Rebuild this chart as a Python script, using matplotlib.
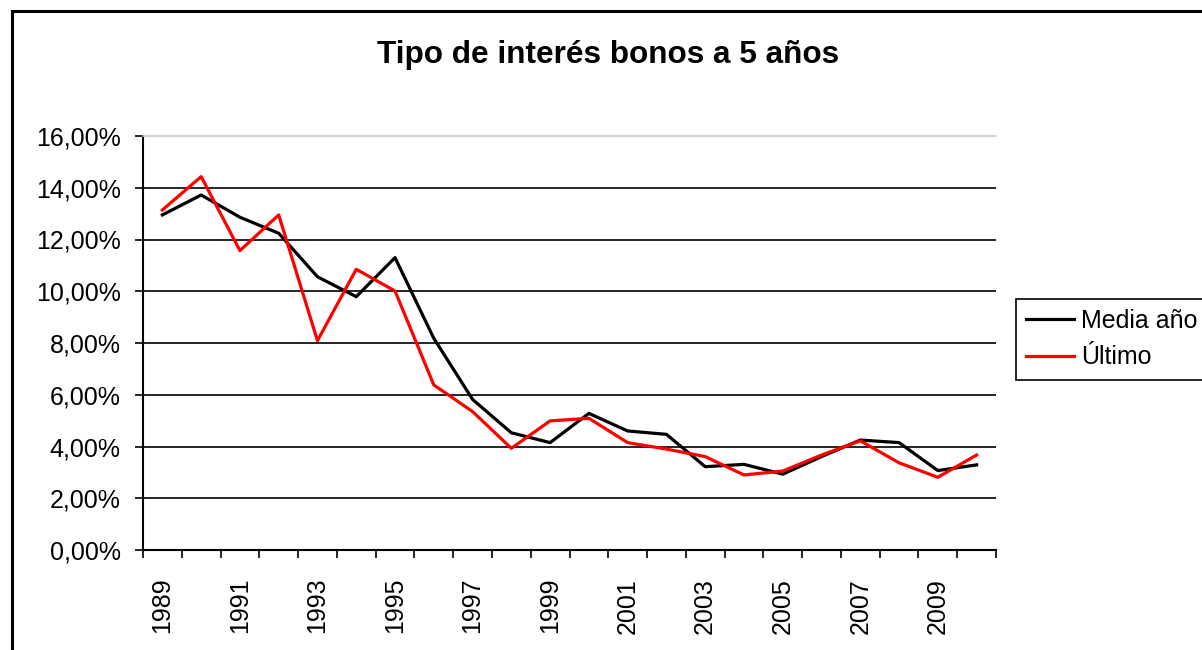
import matplotlib
matplotlib.use("Agg")
import matplotlib.pyplot as plt
from matplotlib.patches import Rectangle
from matplotlib.ticker import FixedLocator, FuncFormatter, NullFormatter

plt.rcParams['font.family'] = ['Liberation Sans', 'DejaVu Sans']

# datos (en %)
years = [1989, 1990, 1991, 1992, 1993, 1994, 1995, 1996, 1997, 1998, 1999,
         2000, 2001, 2002, 2003, 2004, 2005, 2006, 2007, 2008, 2009, 2010]
media_anio = [12.95, 13.72, 12.86, 12.24, 10.56, 9.79, 11.30, 8.18, 5.82, 4.53, 4.15,
              5.28, 4.60, 4.47, 3.22, 3.31, 2.93, 3.61, 4.25, 4.15, 3.07, 3.29]
ultimo = [13.14, 14.43, 11.57, 12.95, 8.09, 10.85, 10.01, 6.38, 5.35, 3.93, 4.99,
          5.09, 4.15, 3.90, 3.61, 2.90, 3.05, 3.67, 4.22, 3.37, 2.81, 3.67]
y_ticks = [0, 2, 4, 6, 8, 10, 12, 14, 16]
title = "Tipo de interés bonos a 5 años"

W, H = 1202, 650
fig = plt.figure(figsize=(W / 100, H / 100), dpi=100)
ax = fig.add_axes([143 / W, 1 - 550 / H, (996 - 143) / W, (550 - 136) / H])

x = list(range(len(years)))
ax.plot(x, media_anio, color='black', lw=2.3, label='Media año', zorder=3)
ax.plot(x, ultimo, color='#ff0000', lw=2.3, label='Último', zorder=4)

ax.set_xlim(-0.5, len(years) - 0.5)
ax.set_ylim(0, 16)

# lineas de division horizontales
for v in y_ticks[1:-1]:
    ax.axhline(v, color='black', lw=1.2, zorder=1)

ax.set_yticks(y_ticks)
ax.yaxis.set_major_formatter(FuncFormatter(lambda v, p: f"{v:.2f}%".replace('.', ',')))
ax.tick_params(axis='y', direction='out', length=6, width=1.2, pad=10, labelsize=18)

# marcas entre categorias, etiquetas cada dos anos
ax.xaxis.set_major_locator(FixedLocator([i - 0.5 for i in range(len(years) + 1)]))
ax.xaxis.set_major_formatter(NullFormatter())
ax.xaxis.set_minor_locator(FixedLocator(x[::2]))
ax.set_xticklabels([str(y) for y in years[::2]], minor=True, rotation=90)
ax.tick_params(axis='x', which='major', direction='out', length=6, width=1.2)
ax.tick_params(axis='x', which='minor', length=0, pad=20, labelsize=18)

for s in ['left', 'bottom']:
    ax.spines[s].set_linewidth(1.5)
ax.spines['right'].set_visible(False)
ax.spines['top'].set_color('#c8c8c8')
ax.spines['top'].set_linewidth(1.2)

fig.text(608 / W, 1 - 63 / H, title, ha='center', va='baseline',
         fontsize=22.7, fontweight='bold')

leg = fig.legend(loc='upper left', bbox_to_anchor=(1016 / W, 1 - 299 / H),
                 fontsize=18, frameon=True, fancybox=False, handlelength=1.9,
                 handletextpad=0.3, borderpad=0.4, labelspacing=0.5, borderaxespad=0)
leg.get_frame().set_edgecolor('black')
leg.get_frame().set_linewidth(1.2)
leg.get_frame().set_alpha(None)

# borde del area del grafico
fig.patches.append(Rectangle((11.5 / W, -0.2), 2, 1.2 - 10.5 / H, transform=fig.transFigure,
                             fill=False, edgecolor='black', lw=2.2, clip_on=False))

fig.savefig("out.png", dpi=100)
